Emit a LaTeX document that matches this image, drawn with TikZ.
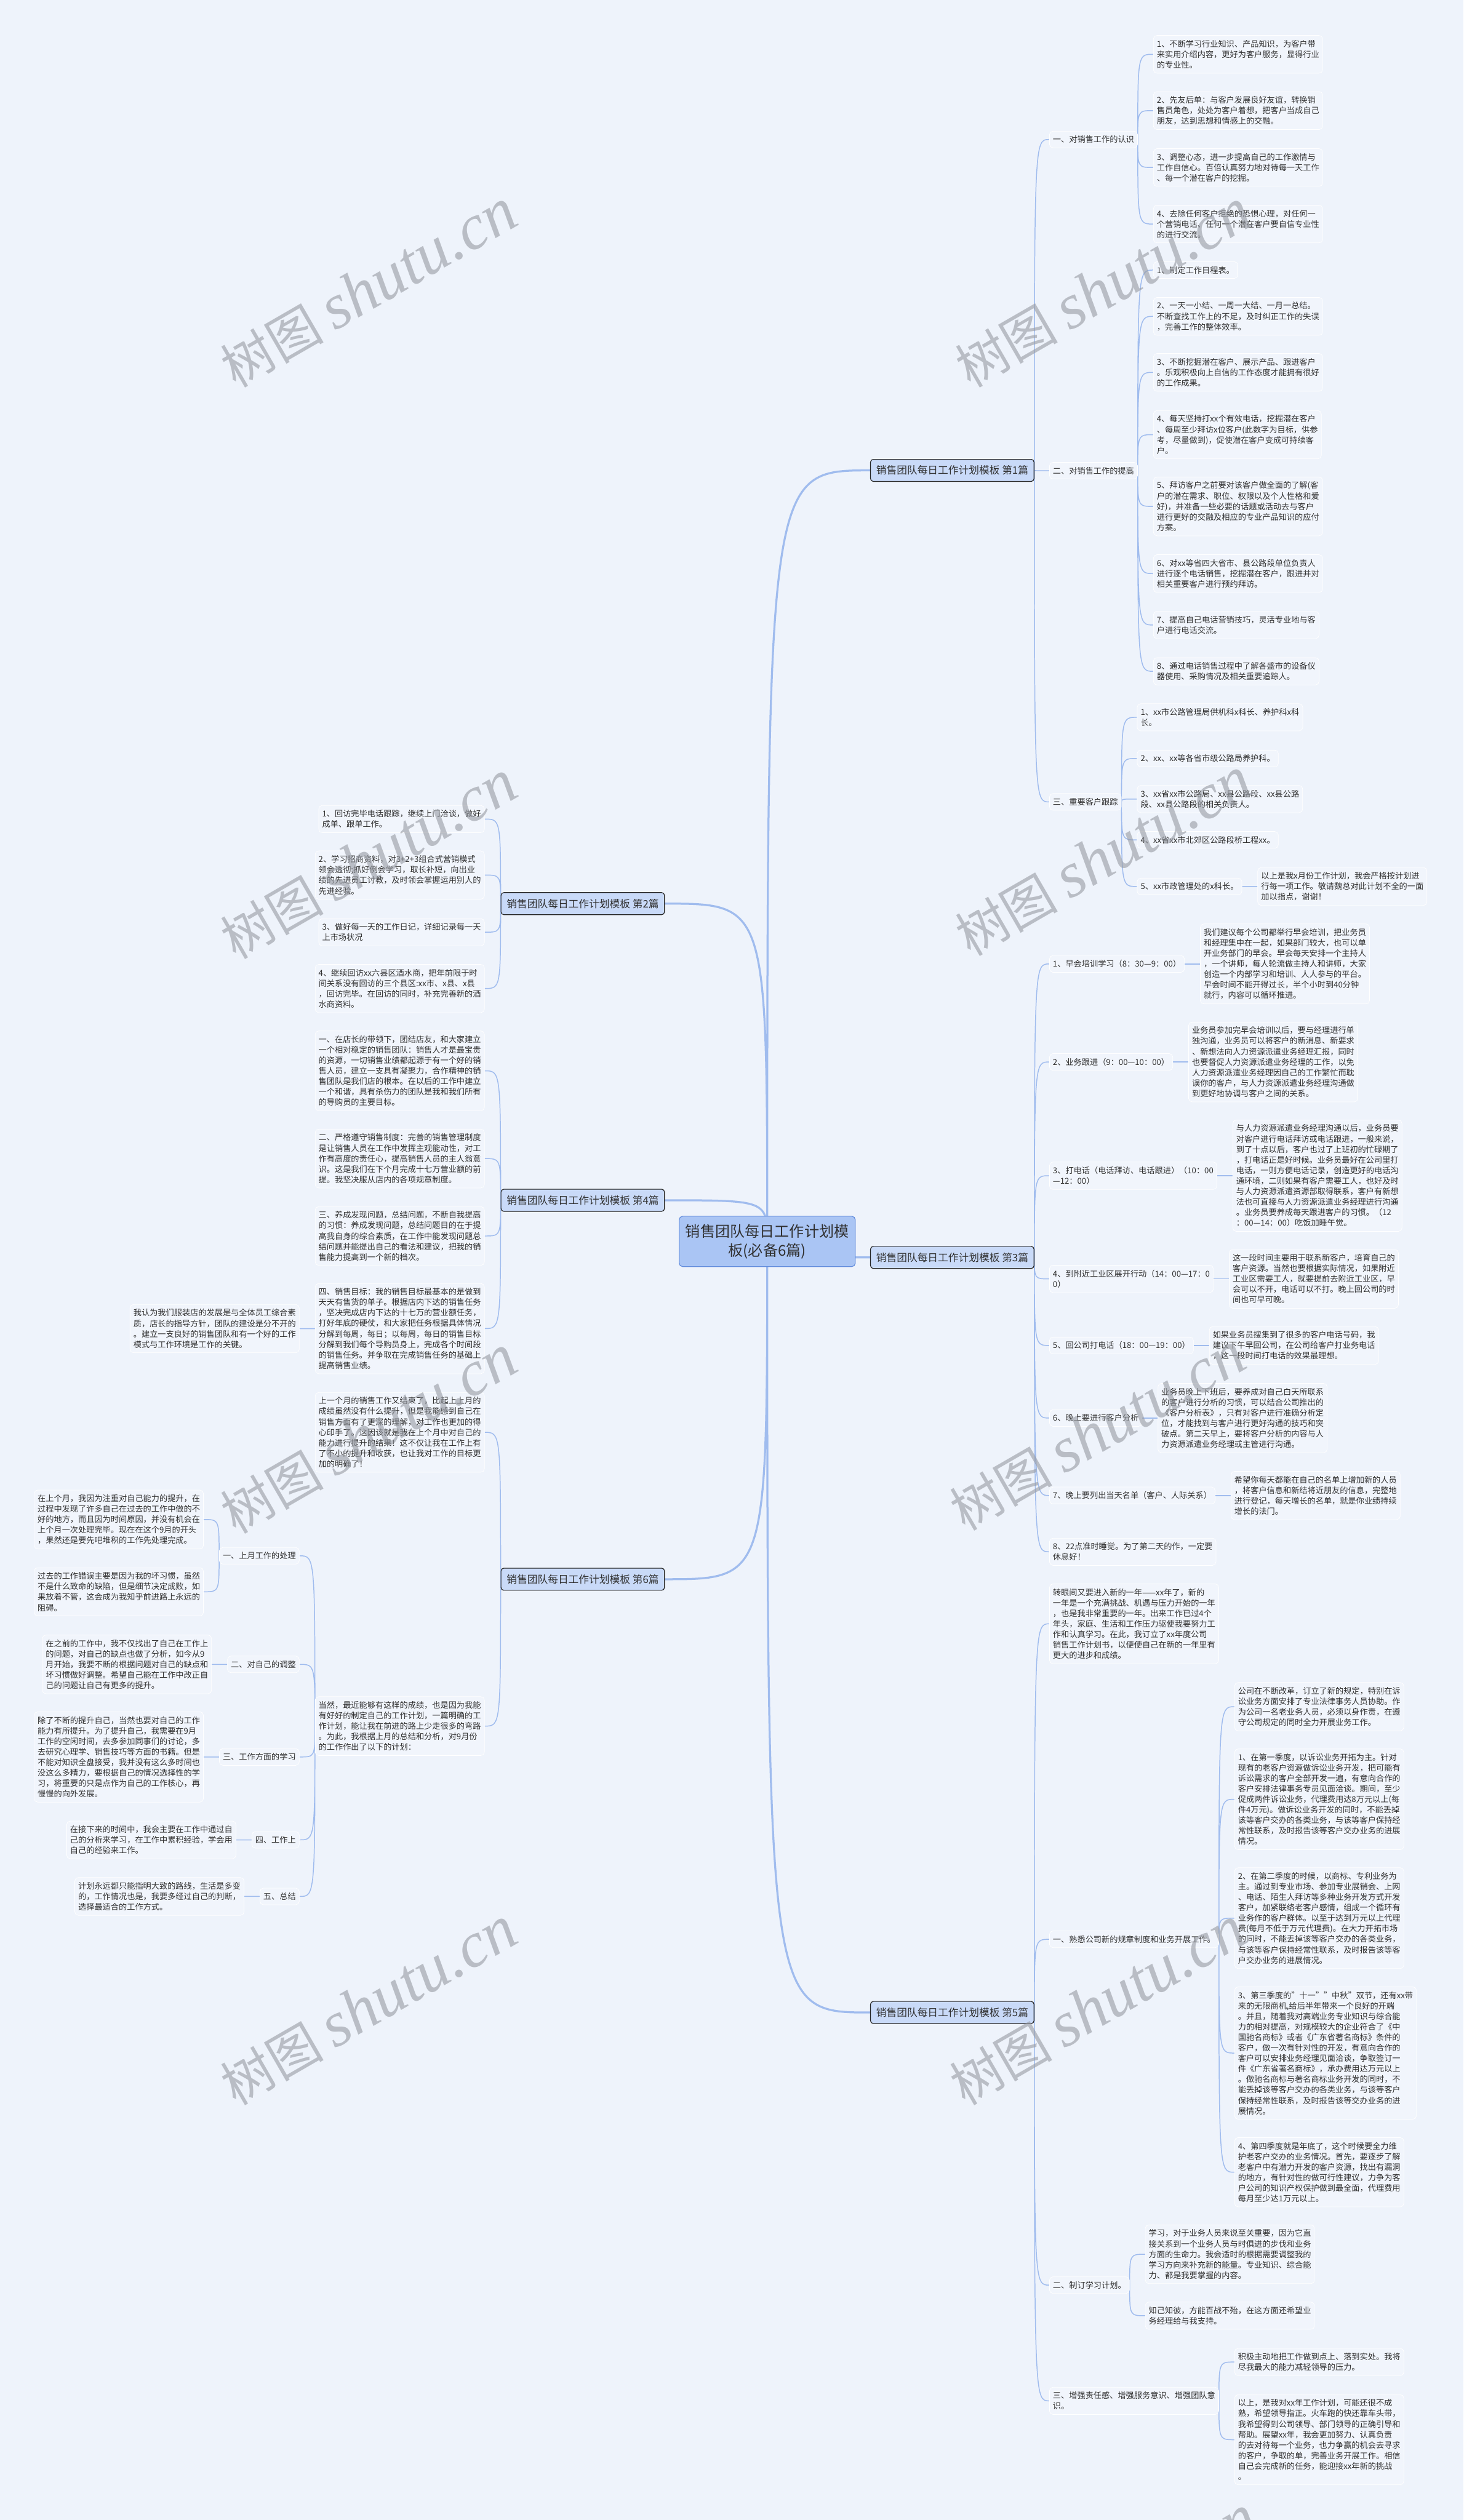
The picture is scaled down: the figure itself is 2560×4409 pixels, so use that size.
\documentclass[tikz,border=0pt]{standalone}
\usepackage{fontspec}
\setmainfont{Noto Sans CJK SC}
\newfontfamily\wmserif{Liberation Serif}
\usepackage{tikz}
\usetikzlibrary{backgrounds}
\definecolor{paper}{RGB}{238,243,251}
\definecolor{leaffill}{RGB}{241,245,252}
\definecolor{linkblue}{RGB}{160,188,238}
\definecolor{topicfill}{RGB}{201,218,248}
\definecolor{hubfill}{RGB}{170,197,244}
\definecolor{hubline}{RGB}{98,140,220}
\definecolor{inkgray}{RGB}{48,48,48}
\definecolor{wmgray}{RGB}{150,154,162}
\newcommand{\shutumark}{树图 {\wmserif\itshape\fontsize{112}{112}\selectfont shutu.cn}}

\begin{document}
\begin{tikzpicture}[x=1pt,y=-1pt,
        hub/.style={draw=hubline,fill=hubfill,rounded corners=6pt,line width=1.2pt,
                    align=center,font=\fontsize{26}{33}\selectfont,text=inkgray,
                    inner xsep=11pt,inner ysep=14pt},
        topic/.style={draw=black!85,fill=topicfill,rounded corners=5pt,line width=1.3pt,
                      font=\fontsize{18}{22}\selectfont,text=inkgray,
                      inner xsep=10pt,inner ysep=11pt},
        leaf/.style={draw=white,fill=leaffill,rounded corners=6pt,line width=0.8pt,
                     align=left,font=\fontsize{14.2}{18.4}\selectfont,text=inkgray,
                     inner xsep=6pt,inner ysep=8pt},
        sprout/.style={to path={.. controls (\tikztostart |- \tikztotarget) .. (\tikztotarget)}},
        trunk/.style={sprout,draw=linkblue,line width=3.5pt},
        twig/.style={sprout,draw=linkblue,line width=1.6pt},
        wmark/.style={text=wmgray,opacity=0.6,rotate=30,font=\fontsize{90}{90}\selectfont}
    ]
    \useasboundingbox (0,0) rectangle (2560,4409);

    % centre and the six books
    \node[hub] (hub) at (1342,2172) {销售团队每日工作计划模\\板(必备6篇)};
    \node[topic,anchor=west] (p1) at (1522,823) {销售团队每日工作计划模板 第1篇};
    \node[topic,anchor=east] (p2) at (1163,1581) {销售团队每日工作计划模板 第2篇};
    \node[topic,anchor=west] (p3) at (1522,2200) {销售团队每日工作计划模板 第3篇};
    \node[topic,anchor=east] (p4) at (1163,2100) {销售团队每日工作计划模板 第4篇};
    \node[topic,anchor=west] (p5) at (1522,3521) {销售团队每日工作计划模板 第5篇};
    \node[topic,anchor=east] (p6) at (1163,2763) {销售团队每日工作计划模板 第6篇};

    % book 1
    \node[leaf,anchor=west] (p1a) at ([xshift=26pt]p1.east |- 0,244) {一、对销售工作的认识};
    \node[leaf,anchor=west] (p1a1) at ([xshift=27pt]p1a.east |- 0,95) {1、不断学习行业知识、产品知识，为客户带\\来实用介绍内容，更好为客户服务，显得行业\\的专业性。};
    \node[leaf,anchor=west] (p1a2) at ([xshift=27pt]p1a.east |- 0,193.5) {2、先友后单：与客户发展良好友谊，转换销\\售员角色，处处为客户着想，把客户当成自己\\朋友，达到思想和情感上的交融。};
    \node[leaf,anchor=west] (p1a3) at ([xshift=27pt]p1a.east |- 0,293) {3、调整心态，进一步提高自己的工作激情与\\工作自信心。百倍认真努力地对待每一天工作\\、每一个潜在客户的挖掘。};
    \node[leaf,anchor=west] (p1a4) at ([xshift=27pt]p1a.east |- 0,392) {4、去除任何客户拒绝的恐惧心理，对任何一\\个营销电话、任何一个潜在客户要自信专业性\\的进行交流。};
    \node[leaf,anchor=west] (p1b) at ([xshift=26pt]p1.east |- 0,823.5) {二、对销售工作的提高};
    \node[leaf,anchor=west] (p1b1) at ([xshift=27pt]p1b.east |- 0,472.5) {1、制定工作日程表。};
    \node[leaf,anchor=west] (p1b2) at ([xshift=27pt]p1b.east |- 0,553.5) {2、一天一小结、一周一大结、一月一总结。\\不断查找工作上的不足，及时纠正工作的失误\\，完善工作的整体效率。};
    \node[leaf,anchor=west] (p1b3) at ([xshift=27pt]p1b.east |- 0,651.5) {3、不断挖掘潜在客户、展示产品、跟进客户\\。乐观积极向上自信的工作态度才能拥有很好\\的工作成果。};
    \node[leaf,anchor=west] (p1b4) at ([xshift=27pt]p1b.east |- 0,760.5) {4、每天坚持打xx个有效电话，挖掘潜在客户\\、每周至少拜访x位客户(此数字为目标，供参\\考，尽量做到)，促使潜在客户变成可持续客\\户。};
    \node[leaf,anchor=west] (p1b5) at ([xshift=27pt]p1b.east |- 0,886) {5、拜访客户之前要对该客户做全面的了解(客\\户的潜在需求、职位、权限以及个人性格和爱\\好)，并准备一些必要的话题或活动去与客户\\进行更好的交融及相应的专业产品知识的应付\\方案。};
    \node[leaf,anchor=west] (p1b6) at ([xshift=27pt]p1b.east |- 0,1003.5) {6、对xx等省四大省市、县公路段单位负责人\\进行逐个电话销售，挖掘潜在客户，跟进并对\\相关重要客户进行预约拜访。};
    \node[leaf,anchor=west] (p1b7) at ([xshift=27pt]p1b.east |- 0,1093.5) {7、提高自己电话营销技巧，灵活专业地与客\\户进行电话交流。};
    \node[leaf,anchor=west] (p1b8) at ([xshift=27pt]p1b.east |- 0,1174.5) {8、通过电话销售过程中了解各盛市的设备仪\\器使用、采购情况及相关重要追踪人。};
    \node[leaf,anchor=west] (p1c) at ([xshift=26pt]p1.east |- 0,1403) {三、重要客户跟踪};
    \node[leaf,anchor=west] (p1c1) at ([xshift=27pt]p1c.east |- 0,1255) {1、xx市公路管理局供机科x科长、养护科x科\\长。};
    \node[leaf,anchor=west] (p1c2) at ([xshift=27pt]p1c.east |- 0,1327) {2、xx、xx等各省市级公路局养护科。};
    \node[leaf,anchor=west] (p1c3) at ([xshift=27pt]p1c.east |- 0,1398) {3、xx省xx市公路局、xx县公路段、xx县公路\\段、xx县公路段的相关负责人。};
    \node[leaf,anchor=west] (p1c4) at ([xshift=27pt]p1c.east |- 0,1469.5) {4、xx省xx市北郊区公路段桥工程xx。};
    \node[leaf,anchor=west] (p1c5) at ([xshift=27pt]p1c.east |- 0,1551) {5、xx市政管理处的x科长。};
    \node[leaf,anchor=west] (p1c5n) at ([xshift=27pt]p1c5.east |- 0,1551) {以上是我x月份工作计划，我会严格按计划进\\行每一项工作。敬请魏总对此计划不全的一面\\加以指点，谢谢！};

    % book 2
    \node[leaf,anchor=east] (p2a) at ([xshift=-28pt]p2.west |- 0,1433) {1、回访完毕电话跟踪，继续上门洽谈，做好\\成单、跟单工作。};
    \node[leaf,anchor=east] (p2b) at ([xshift=-28pt]p2.west |- 0,1531) {2、学习招商资料，对3+2+3组合式营销模式\\领会透彻;抓好例会学习，取长补短，向出业\\绩的先进员工讨教，及时领会掌握运用别人的\\先进经验。};
    \node[leaf,anchor=east] (p2c) at ([xshift=-28pt]p2.west |- 0,1631) {3、做好每一天的工作日记，详细记录每一天\\上市场状况};
    \node[leaf,anchor=east] (p2d) at ([xshift=-28pt]p2.west |- 0,1729.5) {4、继续回访xx六县区酒水商，把年前限于时\\间关系没有回访的三个县区:xx市、x县、x县\\，回访完毕。在回访的同时，补充完善新的酒\\水商资料。};

    % book 3
    \node[leaf,anchor=west] (p3a) at ([xshift=26pt]p3.east |- 0,1686.5) {1、早会培训学习（8：30—9：00）};
    \node[leaf,anchor=west] (p3an) at ([xshift=27pt]p3a.east |- 0,1686.5) {我们建议每个公司都举行早会培训，把业务员\\和经理集中在一起，如果部门较大，也可以单\\开业务部门的早会。早会每天安排一个主持人\\，一个讲师，每人轮流做主持人和讲师，大家\\创造一个内部学习和培训、人人参与的平台。\\早会时间不能开得过长，半个小时到40分钟\\就行，内容可以循环推进。};
    \node[leaf,anchor=west] (p3b) at ([xshift=26pt]p3.east |- 0,1858) {2、业务跟进（9：00—10：00）};
    \node[leaf,anchor=west] (p3bn) at ([xshift=27pt]p3b.east |- 0,1858) {业务员参加完早会培训以后，要与经理进行单\\独沟通，业务员可以将客户的新消息、新要求\\、新想法向人力资源派遣业务经理汇报，同时\\也要督促人力资源派遣业务经理的工作，以免\\人力资源派遣业务经理因自己的工作繁忙而耽\\误你的客户，与人力资源派遣业务经理沟通做\\到更好地协调与客户之间的关系。};
    \node[leaf,anchor=west] (p3c) at ([xshift=26pt]p3.east |- 0,2057) {3、打电话（电话拜访、电话跟进）（10：00\\—12：00）};
    \node[leaf,anchor=west] (p3cn) at ([xshift=27pt]p3c.east |- 0,2057) {与人力资源派遣业务经理沟通以后，业务员要\\对客户进行电话拜访或电话跟进，一般来说，\\到了十点以后，客户也过了上班初的忙碌期了\\，打电话正是好时候。业务员最好在公司里打\\电话，一则方便电话记录，创造更好的电话沟\\通环境，二则如果有客户需要工人，也好及时\\与人力资源派遣资源部取得联系，客户有新想\\法也可直接与人力资源派遣业务经理进行沟通\\。业务员要养成每天跟进客户的习惯。（12\\：00—14：00）吃饭加睡午觉。};
    \node[leaf,anchor=west] (p3d) at ([xshift=26pt]p3.east |- 0,2237.5) {4、到附近工业区展开行动（14：00—17：0\\0）};
    \node[leaf,anchor=west] (p3dn) at ([xshift=27pt]p3d.east |- 0,2237.5) {这一段时间主要用于联系新客户，培育自己的\\客户资源。当然也要根据实际情况，如果附近\\工业区需要工人，就要提前去附近工业区，早\\会可以不开，电话可以不打。晚上回公司的时\\间也可早可晚。};
    \node[leaf,anchor=west] (p3e) at ([xshift=26pt]p3.east |- 0,2354) {5、回公司打电话（18：00—19：00）};
    \node[leaf,anchor=west] (p3en) at ([xshift=27pt]p3e.east |- 0,2354) {如果业务员搜集到了很多的客户电话号码，我\\建议下午早回公司，在公司给客户打业务电话\\，这一段时间打电话的效果最理想。};
    \node[leaf,anchor=west] (p3f) at ([xshift=26pt]p3.east |- 0,2481) {6、晚上要进行客户分析};
    \node[leaf,anchor=west] (p3fn) at ([xshift=27pt]p3f.east |- 0,2481) {业务员晚上下班后，要养成对自己白天所联系\\的客户进行分析的习惯，可以结合公司推出的\\《客户分析表》，只有对客户进行准确分析定\\位，才能找到与客户进行更好沟通的技巧和突\\破点。第二天早上，要将客户分析的内容与人\\力资源派遣业务经理或主管进行沟通。};
    \node[leaf,anchor=west] (p3g) at ([xshift=26pt]p3.east |- 0,2616.5) {7、晚上要列出当天名单（客户、人际关系）};
    \node[leaf,anchor=west] (p3gn) at ([xshift=27pt]p3g.east |- 0,2616.5) {希望你每天都能在自己的名单上增加新的人员\\，将客户信息和新结将近朋友的信息，完整地\\进行登记，每天增长的名单，就是你业绩持续\\增长的法门。};
    \node[leaf,anchor=west] (p3h) at ([xshift=26pt]p3.east |- 0,2715) {8、22点准时睡觉。为了第二天的作，一定要\\休息好！};

    % book 4
    \node[leaf,anchor=east] (p4a) at ([xshift=-28pt]p4.west |- 0,1873.5) {一、在店长的带领下，团结店友，和大家建立\\一个相对稳定的销售团队：销售人才是最宝贵\\的资源，一切销售业绩都起源于有一个好的销\\售人员，建立一支具有凝聚力，合作精神的销\\售团队是我们店的根本。在以后的工作中建立\\一个和谐，具有杀伤力的团队是我和我们所有\\的导购员的主要目标。};
    \node[leaf,anchor=east] (p4b) at ([xshift=-28pt]p4.west |- 0,2027) {二、严格遵守销售制度：完善的销售管理制度\\是让销售人员在工作中发挥主观能动性，对工\\作有高度的责任心，提高销售人员的主人翁意\\识。这是我们在下个月完成十七万营业额的前\\提。我坚决服从店内的各项规章制度。};
    \node[leaf,anchor=east] (p4c) at ([xshift=-28pt]p4.west |- 0,2162.5) {三、养成发现问题，总结问题，不断自我提高\\的习惯：养成发现问题，总结问题目的在于提\\高我自身的综合素质，在工作中能发现问题总\\结问题并能提出自己的看法和建议，把我的销\\售能力提高到一个新的档次。};
    \node[leaf,anchor=east] (p4d) at ([xshift=-28pt]p4.west |- 0,2324.5) {四、销售目标：我的销售目标最基本的是做到\\天天有售货的单子。根据店内下达的销售任务\\，坚决完成店内下达的十七万的营业额任务，\\打好年底的硬仗，和大家把任务根据具体情况\\分解到每周，每日；以每周，每日的销售目标\\分解到我们每个导购员身上，完成各个时间段\\的销售任务。并争取在完成销售任务的基础上\\提高销售业绩。};
    \node[leaf,anchor=east] (p4dn) at ([xshift=-27pt]p4d.west |- 0,2324.5) {我认为我们服装店的发展是与全体员工综合素\\质，店长的指导方针，团队的建设是分不开的\\。建立一支良好的销售团队和有一个好的工作\\模式与工作环境是工作的关键。};

    % book 5
    \node[leaf,anchor=west] (p5a) at ([xshift=26pt]p5.east |- 0,2841) {转眼间又要进入新的一年——xx年了，新的\\一年是一个充满挑战、机遇与压力开始的一年\\，也是我非常重要的一年。出来工作已过4个\\年头，家庭、生活和工作压力驱使我要努力工\\作和认真学习。在此，我订立了xx年度公司\\销售工作计划书，以便使自己在新的一年里有\\更大的进步和成绩。};
    \node[leaf,anchor=west] (p5b) at ([xshift=26pt]p5.east |- 0,3393) {一、熟悉公司新的规章制度和业务开展工作。};
    \node[leaf,anchor=west] (p5b1) at ([xshift=27pt]p5b.east |- 0,2986) {公司在不断改革，订立了新的规定，特别在诉\\讼业务方面安排了专业法律事务人员协助。作\\为公司一名老业务人员，必须以身作责，在遵\\守公司规定的同时全力开展业务工作。};
    \node[leaf,anchor=west] (p5b2) at ([xshift=27pt]p5b.east |- 0,3148) {1、在第一季度，以诉讼业务开拓为主。针对\\现有的老客户资源做诉讼业务开发，把可能有\\诉讼需求的客户全部开发一遍，有意向合作的\\客户安排法律事务专员见面洽谈。期间，至少\\促成两件诉讼业务，代理费用达8万元以上(每\\件4万元)。做诉讼业务开发的同时，不能丢掉\\该等客户交办的各类业务，与该等客户保持经\\常性联系，及时报告该等客户交办业务的进展\\情况。};
    \node[leaf,anchor=west] (p5b3) at ([xshift=27pt]p5b.east |- 0,3356) {2、在第二季度的时候，以商标、专利业务为\\主。通过到专业市场、参加专业展销会、上网\\、电话、陌生人拜访等多种业务开发方式开发\\客户，加紧联络老客户感情，组成一个循环有\\业务作的客户群体。以至于达到万元以上代理\\费(每月不低于万元代理费)。在大力开拓市场\\的同时，不能丢掉该等客户交办的各类业务，\\与该等客户保持经常性联系，及时报告该等客\\户交办业务的进展情况。};
    \node[leaf,anchor=west] (p5b4) at ([xshift=27pt]p5b.east |- 0,3592) {3、第三季度的"十一""中秋"双节，还有xx带\\来的无限商机,给后半年带来一个良好的开端\\。并且，随着我对高端业务专业知识与综合能\\力的相对提高，对规模较大的企业符合了《中\\国驰名商标》或者《广东省著名商标》条件的\\客户，做一次有针对性的开发，有意向合作的\\客户可以安排业务经理见面洽谈，争取签订一\\件《广东省著名商标》，承办费用达万元以上\\。做驰名商标与著名商标业务开发的同时，不\\能丢掉该等客户交办的各类业务，与该等客户\\保持经常性联系，及时报告该等交办业务的进\\展情况。};
    \node[leaf,anchor=west] (p5b5) at ([xshift=27pt]p5b.east |- 0,3800.5) {4、第四季度就是年底了，这个时候要全力维\\护老客户交办的业务情况。首先，要逐步了解\\老客户中有潜力开发的客户资源，找出有漏洞\\的地方，有针对性的做可行性建议，力争为客\\户公司的知识产权保护做到最全面，代理费用\\每月至少达1万元以上。};
    \node[leaf,anchor=west] (p5c) at ([xshift=26pt]p5.east |- 0,3998) {二、制订学习计划。};
    \node[leaf,anchor=west] (p5c1) at ([xshift=27pt]p5c.east |- 0,3944) {学习，对于业务人员来说至关重要，因为它直\\接关系到一个业务人员与时俱进的步伐和业务\\方面的生命力。我会适时的根据需要调整我的\\学习方向来补充新的能量。专业知识、综合能\\力、都是我要掌握的内容。};
    \node[leaf,anchor=west] (p5c2) at ([xshift=27pt]p5c.east |- 0,4051.5) {知己知彼，方能百战不殆，在这方面还希望业\\务经理给与我支持。};
    \node[leaf,anchor=west] (p5d) at ([xshift=26pt]p5.east |- 0,4200.5) {三、增强责任感、增强服务意识、增强团队意\\识。};
    \node[leaf,anchor=west] (p5d1) at ([xshift=27pt]p5d.east |- 0,4132.5) {积极主动地把工作做到点上、落到实处。我将\\尽我最大的能力减轻领导的压力。};
    \node[leaf,anchor=west] (p5d2) at ([xshift=27pt]p5d.east |- 0,4268.5) {以上，是我对xx年工作计划，可能还很不成\\熟，希望领导指正。火车跑的快还靠车头带，\\我希望得到公司领导、部门领导的正确引导和\\帮助。展望xx年，我会更加努力、认真负责\\的去对待每一个业务，也力争赢的机会去寻求\\的客户，争取的单，完善业务开展工作。相信\\自己会完成新的任务，能迎接xx年新的挑战\\。};

    % book 6
    \node[leaf,anchor=east] (p6a) at ([xshift=-28pt]p6.west |- 0,2506) {上一个月的销售工作又结束了，比起上上月的\\成绩虽然没有什么提升，但是我能感到自己在\\销售方面有了更深的理解，对工作也更加的得\\心印手了。这因该就是我在上个月中对自己的\\能力进行提升的结果！这不仅让我在工作上有\\了不小的提升和收获，也让我对工作的目标更\\加的明确了！};
    \node[leaf,anchor=east] (p6b) at ([xshift=-28pt]p6.west |- 0,3020) {当然，最近能够有这样的成绩，也是因为我能\\有好好的制定自己的工作计划，一篇明确的工\\作计划，能让我在前进的路上少走很多的弯路\\。为此，我根据上月的总结和分析，对9月份\\的工作作出了以下的计划：};
    \node[leaf,anchor=east] (p6b1) at ([xshift=-27pt]p6b.west |- 0,2722) {一、上月工作的处理};
    \node[leaf,anchor=east] (p6b1x) at ([xshift=-27pt]p6b1.west |- 0,2658.5) {在上个月，我因为注重对自己能力的提升，在\\过程中发现了许多自己在过去的工作中做的不\\好的地方，而且因为时间原因，并没有机会在\\上个月一次处理完毕。现在在这个9月的开头\\，果然还是要先吧堆积的工作先处理完成。};
    \node[leaf,anchor=east] (p6b1y) at ([xshift=-27pt]p6b1.west |- 0,2785) {过去的工作错误主要是因为我的坏习惯，虽然\\不是什么致命的缺陷，但是细节决定成败，如\\果放着不管，这会成为我知乎前进路上永远的\\阻碍。};
    \node[leaf,anchor=east] (p6b2) at ([xshift=-27pt]p6b.west |- 0,2912) {二、对自己的调整};
    \node[leaf,anchor=east] (p6b2n) at ([xshift=-27pt]p6b2.west |- 0,2912) {在之前的工作中，我不仅找出了自己在工作上\\的问题，对自己的缺点也做了分析，如今从9\\月开始，我要不断的根据问题对自己的缺点和\\坏习惯做好调整。希望自己能在工作中改正自\\己的问题让自己有更多的提升。};
    \node[leaf,anchor=east] (p6b3) at ([xshift=-27pt]p6b.west |- 0,3074) {三、工作方面的学习};
    \node[leaf,anchor=east] (p6b3n) at ([xshift=-27pt]p6b3.west |- 0,3074) {除了不断的提升自己，当然也要对自己的工作\\能力有所提升。为了提升自己，我需要在9月\\工作的空闲时间，去多参加同事们的讨论，多\\去研究心理学、销售技巧等方面的书籍。但是\\不能对知识全盘接受，我并没有这么多时间也\\没这么多精力，要根据自己的情况选择性的学\\习，将重要的只是点作为自己的工作核心，再\\慢慢的向外发展。};
    \node[leaf,anchor=east] (p6b4) at ([xshift=-27pt]p6b.west |- 0,3219) {四、工作上};
    \node[leaf,anchor=east] (p6b4n) at ([xshift=-27pt]p6b4.west |- 0,3219) {在接下来的时间中，我会主要在工作中通过自\\己的分析来学习，在工作中累积经验，学会用\\自己的经验来工作。};
    \node[leaf,anchor=east] (p6b5) at ([xshift=-27pt]p6b.west |- 0,3318) {五、总结};
    \node[leaf,anchor=east] (p6b5n) at ([xshift=-27pt]p6b5.west |- 0,3318) {计划永远都只能指明大致的路线，生活是多变\\的，工作情况也是，我要多经过自己的判断，\\选择最适合的工作方式。};

    \begin{scope}[on background layer]
        \fill[paper] (0,0) rectangle (2560,4409);
        % centre to books
        \draw[trunk] (hub.center) to (p1.west) (hub.center) to (p3.west) (hub.center) to (p5.west)
                     (hub.center) to (p2.east) (hub.center) to (p4.east) (hub.center) to (p6.east);
        % book 1
        \draw[twig] (p1.east) to (p1a.west) (p1.east) to (p1b.west) (p1.east) to (p1c.west);
        \draw[twig] (p1a.east) to (p1a1.west) (p1a.east) to (p1a2.west) (p1a.east) to (p1a3.west) (p1a.east) to (p1a4.west);
        \draw[twig] (p1b.east) to (p1b1.west) (p1b.east) to (p1b2.west) (p1b.east) to (p1b3.west) (p1b.east) to (p1b4.west)
                    (p1b.east) to (p1b5.west) (p1b.east) to (p1b6.west) (p1b.east) to (p1b7.west) (p1b.east) to (p1b8.west);
        \draw[twig] (p1c.east) to (p1c1.west) (p1c.east) to (p1c2.west) (p1c.east) to (p1c3.west) (p1c.east) to (p1c4.west)
                    (p1c.east) to (p1c5.west) (p1c5.east) to (p1c5n.west);
        % book 2
        \draw[twig] (p2.west) to (p2a.east) (p2.west) to (p2b.east) (p2.west) to (p2c.east) (p2.west) to (p2d.east);
        % book 3
        \draw[twig] (p3.east) to (p3a.west) (p3.east) to (p3b.west) (p3.east) to (p3c.west) (p3.east) to (p3d.west)
                    (p3.east) to (p3e.west) (p3.east) to (p3f.west) (p3.east) to (p3g.west) (p3.east) to (p3h.west);
        \draw[twig] (p3a.east) to (p3an.west) (p3b.east) to (p3bn.west) (p3c.east) to (p3cn.west) (p3d.east) to (p3dn.west)
                    (p3e.east) to (p3en.west) (p3f.east) to (p3fn.west) (p3g.east) to (p3gn.west);
        % book 4
        \draw[twig] (p4.west) to (p4a.east) (p4.west) to (p4b.east) (p4.west) to (p4c.east) (p4.west) to (p4d.east)
                    (p4d.west) to (p4dn.east);
        % book 5
        \draw[twig] (p5.east) to (p5a.west) (p5.east) to (p5b.west) (p5.east) to (p5c.west) (p5.east) to (p5d.west);
        \draw[twig] (p5b.east) to (p5b1.west) (p5b.east) to (p5b2.west) (p5b.east) to (p5b3.west) (p5b.east) to (p5b4.west)
                    (p5b.east) to (p5b5.west);
        \draw[twig] (p5c.east) to (p5c1.west) (p5c.east) to (p5c2.west) (p5d.east) to (p5d1.west) (p5d.east) to (p5d2.west);
        % book 6
        \draw[twig] (p6.west) to (p6a.east) (p6.west) to (p6b.east);
        \draw[twig] (p6b.west) to (p6b1.east) (p6b.west) to (p6b2.east) (p6b.west) to (p6b3.east) (p6b.west) to (p6b4.east)
                    (p6b.west) to (p6b5.east);
        \draw[twig] (p6b1.west) to (p6b1x.east) (p6b1.west) to (p6b1y.east) (p6b2.west) to (p6b2n.east)
                    (p6b3.west) to (p6b3n.east) (p6b4.west) to (p6b4n.east) (p6b5.west) to (p6b5n.east);
    \end{scope}

    % watermark
    \node[wmark] (wm1) at (645,505) {\shutumark};
    \node[wmark] (wm2) at (1930,505) {\shutumark};
    \node[wmark] (wm3) at (645,1505) {\shutumark};
    \node[wmark] (wm4) at (1930,1500) {\shutumark};
    \node[wmark] (wm5) at (645,2510) {\shutumark};
    \node[wmark] (wm6) at (1920,2505) {\shutumark};
    \node[wmark] (wm7) at (645,3510) {\shutumark};
    \node[wmark] (wm8) at (1920,3510) {\shutumark};
    \node[wmark] (wm9) at (1940,4540) {\shutumark};
\end{tikzpicture}
\end{document}
